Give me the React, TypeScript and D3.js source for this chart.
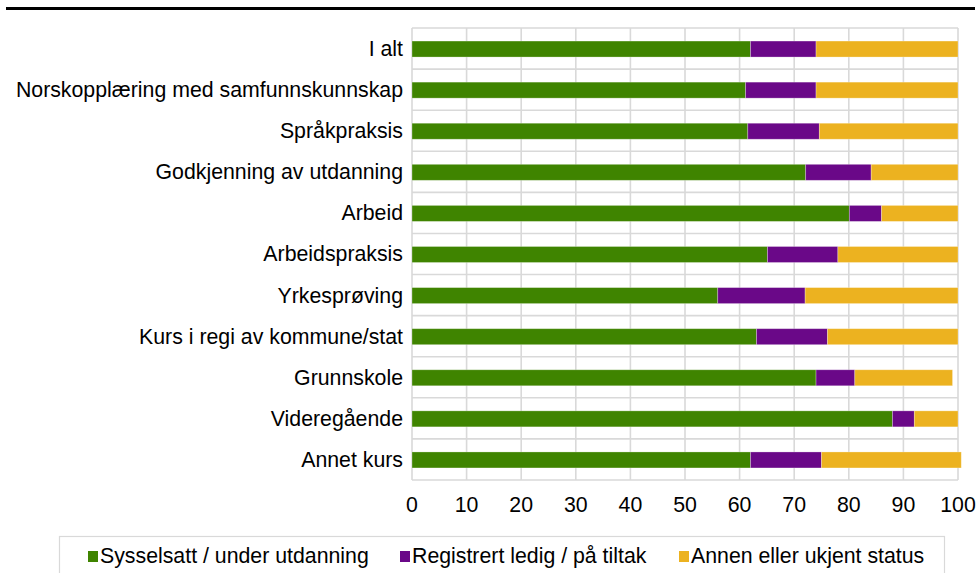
import React from "react";
import * as d3 from "d3";

const categories = [
  "I alt",
  "Norskopplæring med samfunnskunnskap",
  "Språkpraksis",
  "Godkjenning av utdanning",
  "Arbeid",
  "Arbeidspraksis",
  "Yrkesprøving",
  "Kurs i regi av kommune/stat",
  "Grunnskole",
  "Videregående",
  "Annet kurs",
];
const seriesNames = [
  "Sysselsatt / under utdanning",
  "Registrert ledig / på tiltak",
  "Annen eller ukjent status",
];
const sysselsatt = [62, 61.1, 61.5, 72.1, 80.1, 65.1, 56, 63.1, 74, 88, 62];
const ledig = [12, 12.9, 13.1, 12, 5.9, 12.9, 16, 13, 7.1, 4, 13];
const annen = [26, 26, 25.4, 15.9, 14, 22, 28, 23.9, 17.9, 8, 25.6];
const xTicks = [0, 10, 20, 30, 40, 50, 60, 70, 80, 90, 100];
const colors = ["#3f8400", "#6a0888", "#ecb220"];

const W = 979;
const H = 573;
const plot = { left: 412, right: 958, top: 28, bottom: 480 };
const font = "'Liberation Sans', Arial, sans-serif";
const fs = 21.3;

export default function App() {
  const x = d3.scaleLinear().domain([0, 100]).range([plot.left, plot.right]);
  const y = d3
    .scaleBand<string>()
    .domain(categories)
    .range([plot.top, plot.bottom])
    .paddingInner(0)
    .paddingOuter(0);
  const barH = 16;
  const series = [sysselsatt, ledig, annen];
  const stacked = categories.map((c, i) => {
    let acc = 0;
    return series.map((s, k) => {
      const x0 = acc;
      acc += s[i];
      return { c, k, x0, x1: acc };
    });
  });
  const gridColor = "#d9d9d9";

  const legendItems = [
    { sq: 88, tx: 100 },
    { sq: 400, tx: 412 },
    { sq: 679, tx: 691 },
  ];

  return (
    <div style={{ position: "absolute", left: 0, top: 0 }}>
      <svg width={W} height={H} style={{ display: "block", background: "#fff" }}>
        <rect x={6} y={7} width={969} height={3} fill="#000" />
        {categories.map((c) => (
          <line
            key={"h" + c}
            x1={plot.left}
            x2={plot.right}
            y1={y(c)!}
            y2={y(c)!}
            stroke={gridColor}
            strokeWidth={1.6}
          />
        ))}
        <line x1={plot.left} x2={plot.right} y1={plot.bottom} y2={plot.bottom} stroke={gridColor} strokeWidth={1.6} />
        {xTicks.map((t) => (
          <line
            key={"v" + t}
            x1={x(t)}
            x2={x(t)}
            y1={plot.top}
            y2={plot.bottom}
            stroke={gridColor}
            strokeWidth={1.6}
          />
        ))}
        {stacked.map((row) =>
          row.map((seg) => (
            <rect
              key={seg.c + seg.k}
              x={x(seg.x0)}
              y={y(seg.c)! + y.bandwidth() / 2 - barH / 2 + 0.5}
              width={x(seg.x1) - x(seg.x0)}
              height={barH}
              fill={colors[seg.k]}
              stroke="rgba(255,255,255,0.35)"
              strokeWidth={0.8}
            />
          ))
        )}
        {categories.map((c) => (
          <text
            key={"l" + c}
            x={403}
            y={y(c)! + y.bandwidth() / 2}
            dy="0.35em"
            textAnchor="end"
            fontFamily={font}
            fontSize={fs}
            fill="#000"
          >
            {c}
          </text>
        ))}
        {xTicks.map((t) => (
          <text
            key={"t" + t}
            x={x(t)}
            y={505}
            dy="0.35em"
            textAnchor="middle"
            fontFamily={font}
            fontSize={fs}
            fill="#000"
          >
            {t}
          </text>
        ))}
        <rect x={59.5} y={536.5} width={885} height={60} fill="#fff" stroke={gridColor} strokeWidth={1.2} />
        {seriesNames.map((n, i) => (
          <g key={n}>
            <rect x={legendItems[i].sq} y={551} width={10} height={11} fill={colors[i]} />
            <text
              x={legendItems[i].tx}
              y={556}
              dy="0.35em"
              fontFamily={font}
              fontSize={fs}
              fill="#000"
            >
              {n}
            </text>
          </g>
        ))}
      </svg>
    </div>
  );
}
